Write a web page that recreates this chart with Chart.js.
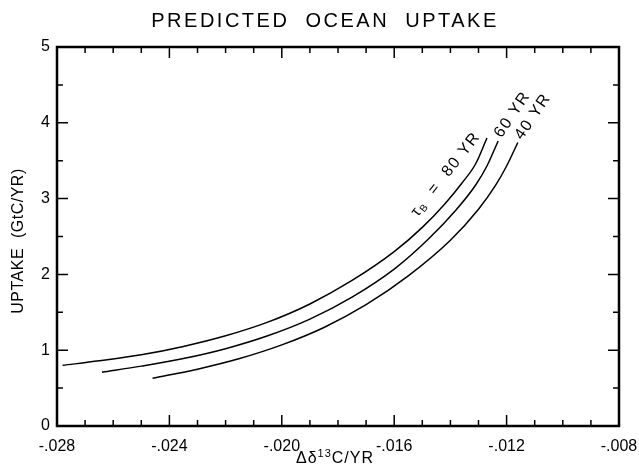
<!DOCTYPE html>
<html>
<head>
<meta charset="utf-8">
<title>Predicted ocean uptake</title>
<script src="https://cdn.jsdelivr.net/npm/chart.js@4.4.0/dist/chart.umd.min.js"></script>
<style>
  html, body { margin: 0; padding: 0; background: #fff; }
  #wrap { width: 639px; height: 466px; }
</style>
</head>
<body>
<div id="wrap"><canvas id="chart"></canvas></div>
<script>
// -> Daten
const x80 = [-0.0278, -0.0265, -0.0250, -0.0235, -0.0220, -0.0205, -0.0190, -0.0175, -0.0160, -0.0150, -0.0142, -0.0136, -0.0131, -0.0127];
const y80 = [0.80, 0.86, 0.94, 1.05, 1.19, 1.37, 1.61, 1.92, 2.30, 2.62, 2.93, 3.20, 3.46, 3.80];

const x60 = [-0.0264, -0.0250, -0.0235, -0.0220, -0.0205, -0.0190, -0.0175, -0.0160, -0.0148, -0.0138, -0.0131, -0.0127, -0.0123];
const y60 = [0.71, 0.79, 0.89, 1.02, 1.19, 1.41, 1.70, 2.07, 2.46, 2.85, 3.18, 3.43, 3.76];

const x40 = [-0.0246, -0.0230, -0.0215, -0.0200, -0.0185, -0.0170, -0.0155, -0.0140, -0.0130, -0.0124, -0.0120, -0.0116];
const y40 = [0.63, 0.75, 0.89, 1.07, 1.30, 1.60, 1.98, 2.45, 2.86, 3.17, 3.43, 3.74];

const curveNames = ["80 YR", "60 YR", "40 YR"];

const xMin = -0.028, xMax = -0.008, xStep = 0.004, xMinor = 0.001;
const yMin = 0, yMax = 5, yStep = 1, yMinor = 0.5;

const titleText = "PREDICTED  OCEAN  UPTAKE";
const yTitle = "UPTAKE  (GtC/YR)";

const FONT = "'Liberation Sans', Arial, Helvetica, sans-serif";

function toPoints(xs, ys) {
  return xs.map((v, i) => ({ x: v, y: ys[i] }));
}

// -> Rahmen, Ticks innen, Titel, Kurvenbeschriftung
const decoPlugin = {
  id: 'deco',
  afterDatasetsDraw(chart) {
    const ctx = chart.ctx;
    const a = chart.chartArea;
    const xs = chart.scales.x;
    const ys = chart.scales.y;

    ctx.save();
    ctx.strokeStyle = '#000';
    ctx.lineWidth = 1.5;
    ctx.beginPath();
    const nx = Math.round((xMax - xMin) / xMinor);
    for (let i = 0; i <= nx; i++) {
      const px = xs.getPixelForValue(xMin + i * xMinor);
      const len = (i % Math.round(xStep / xMinor) === 0) ? 11 : 6;
      ctx.moveTo(px, a.bottom); ctx.lineTo(px, a.bottom - len);
      ctx.moveTo(px, a.top); ctx.lineTo(px, a.top + len);
    }
    const ny = Math.round((yMax - yMin) / yMinor);
    for (let i = 0; i <= ny; i++) {
      const py = ys.getPixelForValue(yMin + i * yMinor);
      const len = (i % Math.round(yStep / yMinor) === 0) ? 11 : 6;
      ctx.moveTo(a.left, py); ctx.lineTo(a.left + len, py);
      ctx.moveTo(a.right, py); ctx.lineTo(a.right - len, py);
    }
    ctx.stroke();

    ctx.lineWidth = 2.5;
    ctx.strokeRect(a.left, a.top, a.right - a.left, a.bottom - a.top);

    // Titel
    ctx.fillStyle = '#000';
    ctx.font = '20px ' + FONT;
    ctx.letterSpacing = '2.5px';
    ctx.textAlign = 'center';
    ctx.textBaseline = 'middle';
    ctx.fillText(titleText, 325, 21);

    // y-Achsentitel
    ctx.save();
    ctx.translate(19, 241);
    ctx.rotate(-Math.PI / 2);
    ctx.font = '16px ' + FONT;
    ctx.letterSpacing = '0.5px';
    ctx.fillText(yTitle, 0, 0);
    ctx.restore();

    // x-Achsentitel mit Hochzahl
    ctx.letterSpacing = '1px';
    ctx.textAlign = 'left';
    ctx.textBaseline = 'alphabetic';
    const parts = [["\u0394\u03b4", 16, 0], ["13", 11, -6], ["C/YR", 16, 0]];
    let w = 0;
    parts.forEach(p => { ctx.font = p[1] + 'px ' + FONT; w += ctx.measureText(p[0]).width; });
    let cx = 335 - w / 2;
    parts.forEach(p => {
      ctx.font = p[1] + 'px ' + FONT;
      ctx.fillText(p[0], cx, 463 + p[2]);
      cx += ctx.measureText(p[0]).width;
    });

    // Kurvenbeschriftung am Kurvenende
    const ends = [[x80, y80], [x60, y60], [x40, y40]];
    const style = [
      { ang: -52, along: -54, up: 10, prefix: true },
      { ang: -56, along: 30, up: 3, prefix: false },
      { ang: -56, along: 30, up: 2, prefix: false }
    ];
    ends.forEach((e, k) => {
      const last = e[0].length - 1;
      const ex = xs.getPixelForValue(e[0][last]);
      const ey = ys.getPixelForValue(e[1][last]);
      const s = style[k];
      const th = s.ang * Math.PI / 180;
      const ux = Math.cos(th), uy = Math.sin(th);
      const nxv = Math.sin(th), nyv = -Math.cos(th);
      const px = ex + ux * s.along + nxv * s.up;
      const py = ey + uy * s.along + nyv * s.up;
      ctx.save();
      ctx.translate(px, py);
      ctx.rotate(th);
      ctx.textBaseline = 'middle';
      ctx.textAlign = 'left';
      ctx.letterSpacing = '1.5px';
      const pieces = s.prefix
        ? [["\u03c4", 16, 0], ["B", 10, 4], ["  =  " + curveNames[k], 16, 0]]
        : [[curveNames[k], 16, 0]];
      let tw = 0;
      pieces.forEach(p => { ctx.font = p[1] + 'px ' + FONT; tw += ctx.measureText(p[0]).width; });
      let tx = -tw / 2;
      pieces.forEach(p => {
        ctx.font = p[1] + 'px ' + FONT;
        ctx.fillText(p[0], tx, p[2]);
        tx += ctx.measureText(p[0]).width;
      });
      ctx.restore();
    });

    ctx.restore();
  }
};

const lineStyle = {
  showLine: true,
  borderColor: '#000',
  borderWidth: 1.5,
  pointRadius: 0,
  fill: false,
  cubicInterpolationMode: 'monotone'
};

const canvas = document.querySelector('#chart');

const chart = new Chart(canvas, {
  type: 'scatter',
  data: {
    datasets: [
      Object.assign({ label: curveNames[0], data: toPoints(x80, y80) }, lineStyle),
      Object.assign({ label: curveNames[1], data: toPoints(x60, y60) }, lineStyle),
      Object.assign({ label: curveNames[2], data: toPoints(x40, y40) }, lineStyle)
    ]
  },
  options: {
    responsive: true,
    maintainAspectRatio: false,
    animation: false,
    layout: { padding: { top: 47, right: 20, left: 0, bottom: 0 } },
    plugins: {
      legend: { display: false },
      tooltip: { enabled: false }
    },
    scales: {
      x: {
        type: 'linear',
        min: xMin,
        max: xMax,
        afterFit: (s) => { s.height = 40; s.paddingLeft = 0; s.paddingRight = 0; },
        border: { display: false },
        grid: { display: false, drawTicks: false },
        ticks: {
          stepSize: xStep,
          padding: 11,
          color: '#000',
          font: { family: FONT, size: 16 },
          callback: (v) => Number(v).toFixed(3).replace('0.', '.')
        }
      },
      y: {
        min: yMin,
        max: yMax,
        afterFit: (s) => { s.width = 57; },
        border: { display: false },
        grid: { display: false, drawTicks: false },
        ticks: {
          stepSize: yStep,
          padding: 7,
          color: '#000',
          font: { family: FONT, size: 16 }
        }
      }
    }
  },
  plugins: [decoPlugin]
});
</script>
</body>
</html>
